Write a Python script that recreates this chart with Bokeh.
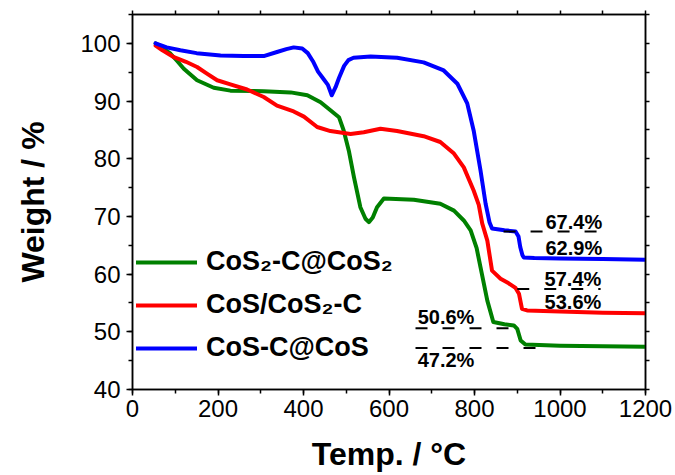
from bokeh.plotting import figure
from bokeh.models import (Range1d, LinearAxis, SingleIntervalTicker, FixedTicker, Legend,
                          LegendItem, ColumnDataSource)
from bokeh.core.properties import value
from bokeh.embed import file_html
from bokeh.resources import INLINE

# ---------------- data ----------------
green_T = [54, 70, 89, 105, 120, 151, 190, 229, 307, 370, 409, 440, 463, 483, 494, 506, 518, 533,
           545, 553, 562, 572, 588, 658, 720, 752, 775, 791, 805, 814, 830, 844, 870, 892, 900,
           908, 919, 1000, 1100, 1200]
green_W = [100, 99.2, 98.2, 96.9, 95.6, 93.6, 92.3, 91.8, 91.7, 91.5, 91.0, 89.8, 88.4, 87.2, 84.9,
           81.4, 76.8, 71.6, 69.6, 69.0, 69.8, 71.6, 73.1, 72.9, 72.2, 71.0, 69.3, 67.6, 64.5,
           61.2, 55.4, 51.7, 51.3, 51.1, 50.5, 48.5, 47.8, 47.6, 47.5, 47.4]

red_T = [54, 70, 97, 125, 151, 175, 198, 229, 268, 307, 338, 377, 401, 432, 463, 510, 541, 580,
         619, 681, 720, 752, 775, 798, 810, 818, 830, 841, 861, 880, 896, 904, 911, 923, 1000,
         1100, 1200]
red_W = [99.6, 98.8, 97.6, 96.8, 95.9, 94.7, 93.6, 92.9, 92.0, 90.7, 89.2, 88.2, 87.3, 85.5, 84.8,
         84.3, 84.6, 85.2, 84.8, 83.9, 82.9, 80.9, 78.5, 74.5, 72.0, 68.8, 65.8, 60.6, 59.2, 58.4,
         57.6, 56.6, 54.0, 53.7, 53.5, 53.3, 53.2]

blue_T = [54, 80, 112, 150, 206, 260, 307, 338, 360, 377, 397, 410, 422, 434, 446, 457, 466, 475,
          483, 495, 505, 517, 557, 619, 681, 728, 760, 783, 798, 814, 826, 835, 841, 870, 896,
          903, 907, 912, 915, 940, 1000, 1100, 1200]
blue_W = [100, 99.3, 98.8, 98.3, 97.9, 97.8, 97.8, 98.5, 99.0, 99.3, 99.1, 98.3, 96.9, 95.1, 93.9,
          92.8, 91.0, 92.4, 94.0, 96.1, 97.1, 97.5, 97.7, 97.5, 96.7, 95.3, 93.0, 89.6, 84.9,
          78.0, 72.2, 69.0, 67.9, 67.6, 67.4, 66.5, 64.7, 63.3, 62.9, 62.8, 62.7, 62.6, 62.5]

series_names = ["CoS\u2082-C@CoS\u2082", "CoS/CoS\u2082-C", "CoS-C@CoS"]
series_colors = ["#008000", "#ff0000", "#0000ff"]

# dashed reference levels (value, start T, end T)
level_values = [67.4, 57.4, 50.6, 47.2]
level_start = [868, 900, 662, 662]
level_end = [1095, 1095, 880, 943]

# annotation texts and their anchor (T, W)
note_texts = ["67.4%", "62.9%", "57.4%", "53.6%", "50.6%", "47.2%"]
note_T = [966, 966, 964, 964, 667, 667]
note_W = [69.1, 64.6, 59.1, 55.2, 52.5, 45.2]

x_ticks_interval = 200
y_ticks_interval = 10

# ---------------- figure ----------------
FONT = "Liberation Sans"
p = figure(width=675, height=475, output_backend="svg", toolbar_location=None,
           x_range=Range1d(0, 1200), y_range=Range1d(40, 105),
           min_border_left=132, min_border_right=30, min_border_top=14, min_border_bottom=86,
           x_axis_label="Temp. / \u00b0C", y_axis_label="Weight / %")
p.xgrid.visible = False
p.ygrid.visible = False
p.outline_line_color = "black"
p.outline_line_width = 1.5
p.background_fill_color = "white"
p.border_fill_color = "white"

p.xaxis.ticker = SingleIntervalTicker(interval=x_ticks_interval, num_minor_ticks=2)
p.yaxis.ticker = SingleIntervalTicker(interval=y_ticks_interval, num_minor_ticks=2)

for ax in (p.xaxis[0], p.yaxis[0]):
    ax.axis_line_color = "black"
    ax.axis_line_width = 1.5
    ax.major_tick_line_width = 1.5
    ax.minor_tick_line_width = 1.5
    ax.major_tick_out = 6
    ax.major_tick_in = 0
    ax.minor_tick_out = 4
    ax.minor_tick_in = 0
    ax.major_label_text_font = FONT
    ax.major_label_text_font_size = "24px"
    ax.major_label_text_color = "black"
    ax.axis_label_text_font = FONT
    ax.axis_label_text_font_size = "32px"
    ax.axis_label_text_font_style = "bold"
    ax.axis_label_text_color = "black"

p.xaxis.major_label_standoff = 4
p.xaxis.axis_label_standoff = 16
p.yaxis.major_label_standoff = 6
p.yaxis.axis_label_standoff = 26

# mirrored axes: ticks only (as minor ticks, so no labels are drawn)
top_ticks = list(range(0, 1201, 100))
right_ticks = list(range(40, 106, 5))
top = LinearAxis(ticker=FixedTicker(ticks=[], minor_ticks=top_ticks))
right = LinearAxis(ticker=FixedTicker(ticks=[], minor_ticks=right_ticks))
for ax in (top, right):
    ax.axis_line_width = 1.5
    ax.minor_tick_line_width = 1.5
    ax.minor_tick_out = 4
    ax.minor_tick_in = 0
    ax.major_label_standoff = 0
p.add_layout(top, "above")
p.add_layout(right, "right")

# ---------------- curves ----------------
renderers = []
for T, W, c in [(green_T, green_W, series_colors[0]), (red_T, red_W, series_colors[1]),
                (blue_T, blue_W, series_colors[2])]:
    r = p.line(T, W, line_color=c, line_width=4, line_join="round", line_cap="round")
    renderers.append(r)

# dashed levels
p.segment(x0=level_start, y0=level_values, x1=level_end, y1=level_values,
          line_color="black", line_width=2, line_dash="12 15")

# annotations
src = ColumnDataSource(dict(x=note_T, y=note_W, t=note_texts))
p.text(x="x", y="y", text="t", source=src, text_font=value(FONT), text_font_style="bold",
       text_font_size="20px", text_color="black", text_baseline="alphabetic", text_align="left")

# ---------------- legend ----------------
legend = Legend(items=[LegendItem(label=n, renderers=[r]) for n, r in zip(series_names, renderers)],
                location=(4, 26), orientation="vertical")
legend.label_text_font = FONT
legend.label_text_font_size = "27px"
legend.label_text_font_style = "bold"
legend.label_text_color = "black"
legend.glyph_width = 61
legend.glyph_height = 30
legend.label_height = 30
legend.label_standoff = 9
legend.spacing = 12
legend.padding = 0
legend.margin = 0
legend.border_line_alpha = 0
legend.background_fill_alpha = 0
p.add_layout(legend)

open("out.html", "w").write(file_html(p, INLINE))
